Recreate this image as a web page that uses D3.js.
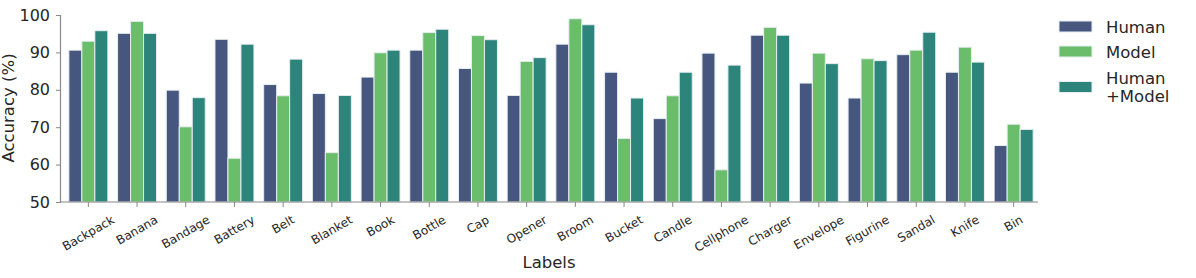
<!DOCTYPE html>
<html>
<head>
<meta charset="utf-8">
<script src="https://cdn.jsdelivr.net/npm/d3@7"></script>
<style>
  body { margin: 0; background: #fff; }
  svg { display: block; font-family: "DejaVu Sans", sans-serif; }
</style>
</head>
<body>
<script>
// Datos
const labels = ["Backpack", "Banana", "Bandage", "Battery", "Belt", "Blanket", "Book", "Bottle", "Cap", "Opener",
                "Broom", "Bucket", "Candle", "Cellphone", "Charger", "Envelope", "Figurine", "Sandal", "Knife", "Bin"];
const human = [90.6, 95.1, 79.9, 93.5, 81.4, 79.0, 83.4, 90.6, 85.7, 78.5,
               92.2, 84.7, 72.3, 89.8, 94.6, 81.8, 77.8, 89.4, 84.7, 65.1];
const model = [93.0, 98.3, 70.1, 61.7, 78.4, 63.2, 89.9, 95.3, 94.5, 87.6,
               99.0, 67.0, 78.4, 58.6, 96.7, 89.8, 88.3, 90.6, 91.4, 70.8];
const humanModel = [95.8, 95.1, 77.9, 92.2, 88.2, 78.5, 90.6, 96.2, 93.4, 88.6,
                    97.4, 77.8, 84.7, 86.6, 94.6, 87.0, 87.8, 95.4, 87.4, 69.4];
const seriesNames = ["Human", "Model", "Human\n+Model"];
const colors = ["#46567f", "#6abd6b", "#2d847b"];
const yTicks = [50, 60, 70, 80, 90, 100];

const w = 1196, h = 278;
const x0 = 60, x1 = 1038, yTop = 15, yBot = 202;

const svg = d3.select("body").append("svg")
    .attr("width", w).attr("height", h);

// Escalas
const xScale = d3.scaleBand().domain(labels).range([64, x1]).paddingInner(0).paddingOuter(0);
const inner = d3.scaleBand().domain(d3.range(3)).range([0, xScale.bandwidth() * 0.8]);
const yScale = d3.scaleLinear().domain([50, 100]).range([yBot, yTop]);

const allSeries = [human, model, humanModel];
const rows = [];
labels.forEach((l, i) => allSeries.forEach((s, k) => rows.push({label: l, k: k, v: s[i]})));

// Barras
svg.append("g").selectAll("rect")
    .data(rows)
    .enter()
    .append("rect")
    .attr("x", d => xScale(d.label) + xScale.bandwidth() * 0.1 + inner(d.k))
    .attr("y", d => yScale(d.v))
    .attr("width", inner.bandwidth())
    .attr("height", d => yScale(50) - yScale(d.v))
    .attr("fill", d => colors[d.k])
    .attr("stroke", "#e6eef0")
    .attr("stroke-width", 1);

// Eje Y
const yAxis = d3.axisLeft(yScale).tickValues(yTicks).tickSize(4).tickPadding(6);
const gy = svg.append("g").attr("transform", `translate(${x0},0)`).call(yAxis);
gy.select(".domain").attr("stroke", "#888").attr("stroke-width", 1.2);
gy.selectAll(".tick line").attr("stroke", "#888");
gy.selectAll(".tick text").attr("font-size", "16px").attr("fill", "#262626")
    .attr("font-family", "DejaVu Sans");

// Eje X
const xAxis = d3.axisBottom(xScale).tickSize(5).tickFormat("");
const gx = svg.append("g").attr("transform", `translate(0,${yBot})`).call(xAxis);
gx.select(".domain").remove();
gx.append("line").attr("x1", x0).attr("x2", x1).attr("y1", 0).attr("y2", 0)
    .attr("stroke", "#888").attr("stroke-width", 1.2);
gx.selectAll(".tick line").attr("stroke", "#888");

// Etiquetas rotadas
const fs = 12;
const lab = svg.append("g");
labels.forEach(l => {
    const t = lab.append("text")
        .attr("font-size", fs + "px")
        .attr("fill", "#262626")
        .attr("text-anchor", "middle")
        .attr("dominant-baseline", "central")
        .text(l);
    const len = t.node().getComputedTextLength();
    const bh = len * 0.5 + fs * 1.1 * 0.866;
    const cx = xScale(l) + xScale.bandwidth() / 2;
    const cy = yBot + 11 + bh / 2;
    t.attr("x", cx).attr("y", cy).attr("transform", `rotate(-30,${cx},${cy})`);
});

// Títulos de ejes
svg.append("text")
    .attr("x", (x0 + x1) / 2).attr("y", 268)
    .attr("text-anchor", "middle").attr("font-size", "16.5px").attr("fill", "#262626")
    .text("Labels");

svg.append("text")
    .attr("transform", "translate(14,108) rotate(-90)")
    .attr("text-anchor", "middle").attr("font-size", "16.5px").attr("fill", "#262626")
    .text("Accuracy (%)");

// Leyenda
const legendY = [26.5, 51.5, 87];
const lg = svg.append("g");
seriesNames.forEach((name, k) => {
    lg.append("rect")
        .attr("x", 1059).attr("y", legendY[k] - 5.5)
        .attr("width", 33).attr("height", 11)
        .attr("fill", colors[k]).attr("stroke", "#e6eef0");
    const lines = name.split("\n");
    const t = lg.append("text")
        .attr("x", 1106).attr("font-size", "16.5px").attr("fill", "#262626");
    lines.forEach((ln, j) => {
        t.append("tspan")
            .attr("x", 1106)
            .attr("y", legendY[k] + 6 + (j - (lines.length - 1) / 2) * 17.5)
            .text(ln);
    });
});
</script>
</body>
</html>
